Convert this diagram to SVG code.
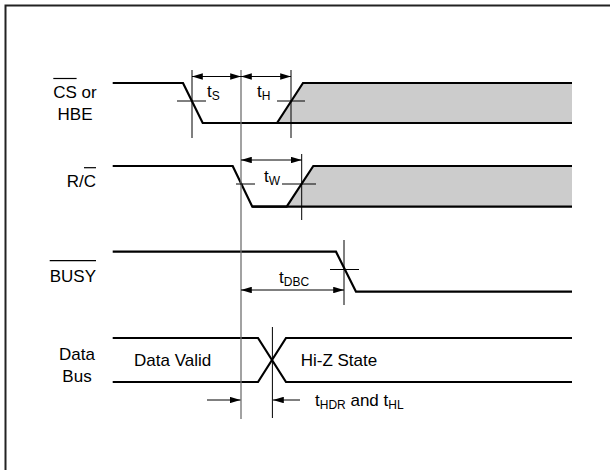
<svg xmlns="http://www.w3.org/2000/svg" width="610" height="470" viewBox="0 0 610 470">
<style>
text{font-family:"Liberation Sans",Arial,sans-serif;font-size:17px;fill:#000}
.sub{font-size:12px}
.mid{text-anchor:middle}
.end{text-anchor:end}
.wave{fill:none;stroke:#000;stroke-width:2.2;stroke-linejoin:miter}
.shade{fill:#cccccc;stroke:none}
.tick{stroke:#000;stroke-width:1;fill:none}
.ref{stroke:#707070;stroke-width:1.3;fill:none}
.dim{stroke:#000;stroke-width:1;fill:none;marker-start:url(#ah);marker-end:url(#ah)}
.one{stroke:#000;stroke-width:1;fill:none;marker-end:url(#ah)}
.ol{stroke:#000;stroke-width:1.2}
</style>
<defs>
<marker id="ah" viewBox="0 0 10 6" refX="10" refY="3" markerWidth="11" markerHeight="6.5" markerUnits="userSpaceOnUse" orient="auto-start-reverse">
<path d="M0,0 L10,3 L0,6 Z" fill="#000"/>
</marker>
</defs>
<rect width="610" height="470" fill="#fff"/>
<rect x="5.5" y="5.5" width="620" height="480" fill="none" stroke="#222" stroke-width="2"/>

<g id="cs">
<polygon class="shade" points="277,123 303,83 572,83 572,123"/>
<path class="wave" d="M112.7,83 H183 L202.7,123 H277 L303,83 H572"/>
<path class="wave" d="M202.7,123 H572"/>
<text class="mid" x="75" y="98">CS or</text>
<line class="ol" x1="53.3" y1="78.5" x2="76.6" y2="78.5"/>
<text class="mid" x="75" y="120">HBE</text>
</g>

<g id="rc">
<polygon class="shade" points="286.7,206.7 313.3,166 572,166 572,206.7"/>
<path class="wave" d="M112.7,166 H232.7 L252.3,206.7 H286.7 L313.3,166 H572"/>
<path class="wave" d="M252.3,206.7 H572"/>
<text class="end" x="96" y="186.7">R/C</text>
<line class="ol" x1="84" y1="167.7" x2="96" y2="167.7"/>
</g>

<g id="busy">
<path class="wave" d="M112.7,251.7 H336 L356,291.7 H572"/>
<text class="end" x="96" y="281.7">BUSY</text>
<line class="ol" x1="49.7" y1="260.7" x2="96" y2="260.7"/>
</g>

<g id="databus">
<path class="wave" d="M112.7,338 H258 L286,382 H572"/>
<path class="wave" d="M112.7,382 H258 L286,338 H572"/>
<text class="mid" x="77" y="360">Data</text>
<text class="mid" x="77" y="382">Bus</text>
<text x="134" y="366">Data Valid</text>
<text x="300.7" y="366">Hi-Z State</text>
</g>

<g id="connectors">
<line class="ref" x1="241" y1="70" x2="241" y2="419"/>
<line class="tick" x1="192" y1="70" x2="192" y2="138"/>
<line class="tick" x1="291" y1="70" x2="291" y2="138"/>
<line class="tick" x1="177" y1="101" x2="206" y2="101"/>
<line class="tick" x1="277" y1="101" x2="305" y2="101"/>
<line class="dim" x1="192" y1="76.5" x2="241" y2="76.5"/>
<line class="dim" x1="241" y1="76.5" x2="291" y2="76.5"/>

<line class="tick" x1="301.7" y1="154" x2="301.7" y2="220"/>
<line class="tick" x1="236" y1="184" x2="255" y2="184"/>
<line class="tick" x1="282" y1="184" x2="316" y2="184"/>
<line class="dim" x1="241" y1="160" x2="301.7" y2="160"/>

<line class="tick" x1="344" y1="240" x2="344" y2="305"/>
<line class="tick" x1="330" y1="269.5" x2="359" y2="269.5"/>
<line class="dim" x1="241" y1="290" x2="344" y2="290"/>

<line class="tick" x1="272.4" y1="327" x2="272.4" y2="418"/>
<line class="one" x1="207" y1="400" x2="240.5" y2="400"/>
<line class="one" x1="300" y1="400" x2="273" y2="400"/>
</g>

<g id="labels">
<text x="207" y="97">t<tspan class="sub" dy="3">S</tspan></text>
<text x="257" y="97">t<tspan class="sub" dy="3">H</tspan></text>
<text x="264" y="182">t<tspan class="sub" dy="3">W</tspan></text>
<text x="279" y="283">t<tspan class="sub" dy="3">DBC</tspan></text>
<text x="315" y="406">t<tspan class="sub" dy="3">HDR</tspan><tspan dy="-3"> and t</tspan><tspan class="sub" dy="3">HL</tspan></text>
</g>
</svg>
